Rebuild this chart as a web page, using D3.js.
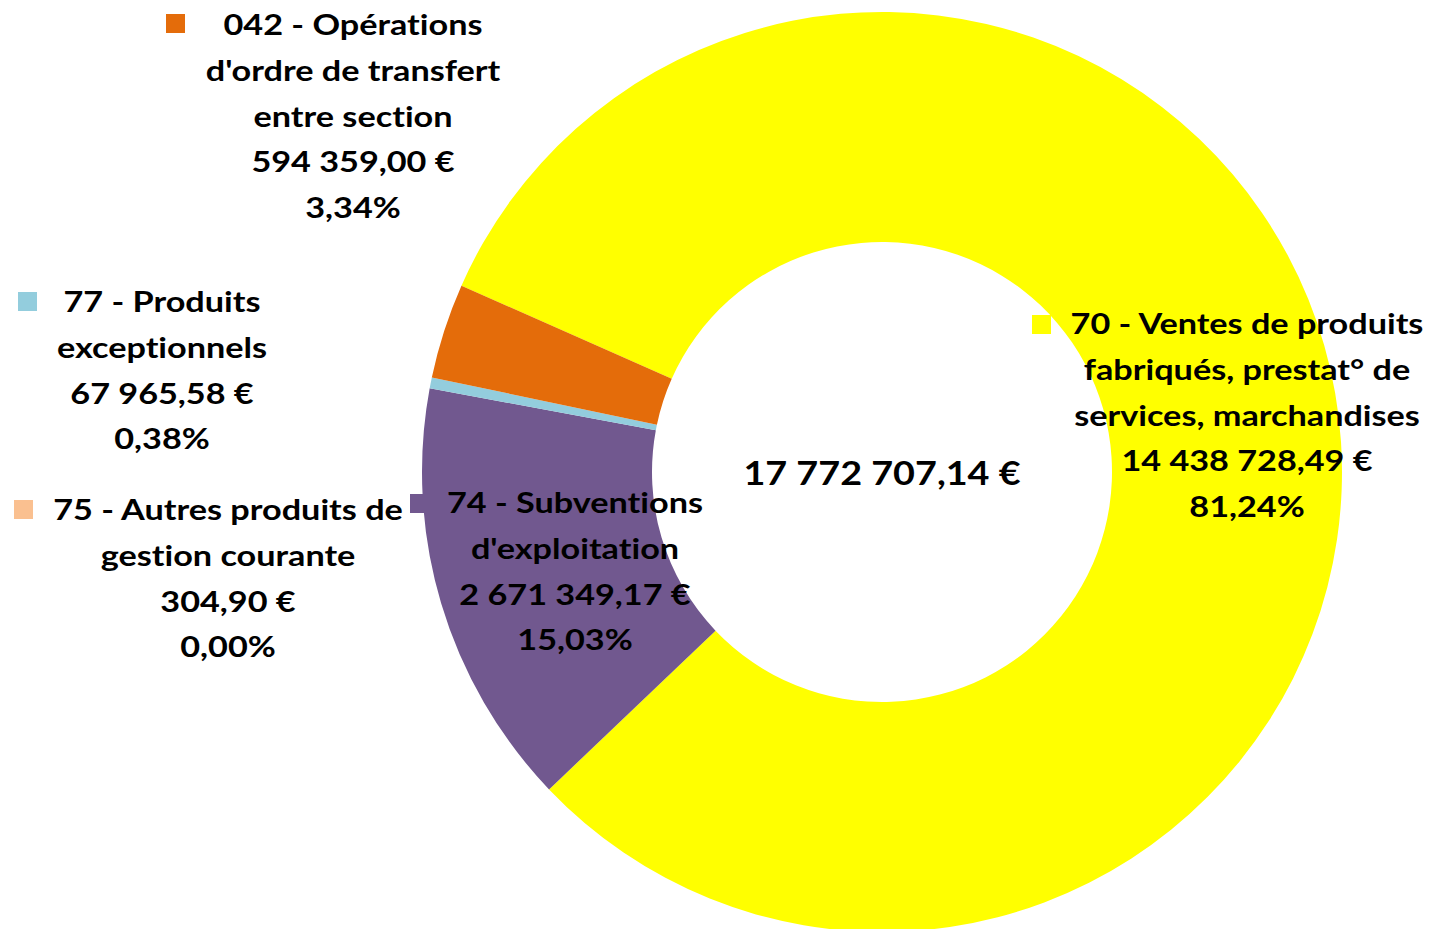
<!DOCTYPE html>
<html>
<head>
<meta charset="utf-8">
<script src="https://cdn.jsdelivr.net/npm/d3@7"></script>
<style>
  html, body { margin: 0; padding: 0; background: #fff; }
  svg { display: block; }
  text { font-family: "Lato", "Open Sans", sans-serif; font-weight: bold; fill: #000;
         font-variant-ligatures: none; font-feature-settings: "liga" 0, "clig" 0; }
</style>
</head>
<body>
<svg id="chart" width="1434" height="929"></svg>
<script>
// ---- data ----
const codes = ["70", "74", "75", "77", "042"];
const names = [
  ["70 - Ventes de produits", "fabriqués, prestat° de", "services, marchandises"],
  ["74 - Subventions", "d'exploitation"],
  ["75 - Autres produits de", "gestion courante"],
  ["77 - Produits", "exceptionnels"],
  ["042 - Opérations", "d'ordre de transfert", "entre section"]
];
const values = [14438728.49, 2671349.17, 304.90, 67965.58, 594359.00];
const colors = ["#FFFF00", "#71588F", "#FAC090", "#93CDDD", "#E46C0A"];

// ---- layout (label placement, as in the original) ----
const labelPos = [
  { x: 1247, y: 334, sq: [1032, 315] },
  { x: 575, y: 513, sq: [410, 494] },
  { x: 228, y: 520, sq: [14, 500] },
  { x: 162, y: 312, sq: [18, 292] },
  { x: 353, y: 35, sq: [166, 14] }
];

const W = 1434, H = 929;
const cx = 882, cy = 472, R = 460, r = 230;
const lineH = 45.8;
const sx = 1.18; // horizontal stretch of the original's text
const svg = d3.select("#chart");

const total = d3.sum(values);
const fmtNum = d3.formatLocale({ decimal: ",", thousands: "\u00a0", grouping: [3], currency: ["", "\u00a0€"] });
const money = v => fmtNum.format(",.2f")(v) + " €";
const pct = v => fmtNum.format(".2f")(v * 100) + "%";

const start = -66.1 * Math.PI / 180;
const pie = d3.pie().value(d => d).sort(null)
  .startAngle(start).endAngle(start + 2 * Math.PI);
const arc = d3.arc().innerRadius(r).outerRadius(R);

const g = svg.append("g").attr("transform", `translate(${cx},${cy})`);
g.selectAll("path").data(pie(values)).join("path")
  .attr("d", arc)
  .attr("fill", (d, i) => colors[i]);

// labels
const lab = svg.append("g");
values.forEach((v, i) => {
  const p = labelPos[i];
  lab.append("rect").attr("x", p.sq[0]).attr("y", p.sq[1])
    .attr("width", 19).attr("height", 19).attr("fill", colors[i]);
  const lines = names[i].concat([money(v), pct(v / total)]);
  const t = lab.append("text").attr("text-anchor", "middle").style("font-size", "29px")
    .attr("transform", `translate(${p.x},0) scale(${sx},1)`);
  lines.forEach((s, k) => {
    t.append("tspan").attr("x", 0).attr("y", p.y + k * lineH).text(s);
  });
});

svg.append("text").attr("text-anchor", "middle").style("font-size", "32px")
  .attr("transform", `translate(${cx},0) scale(${sx},1)`)
  .append("tspan").attr("x", 0).attr("y", cy + 13)
  .text(money(total));
</script>
</body>
</html>
